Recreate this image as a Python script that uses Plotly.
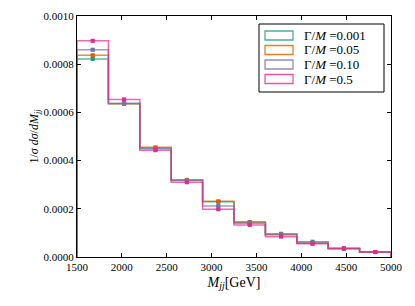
import plotly.graph_objects as go

bin_edges = [1500, 1850, 2200, 2550, 2900, 3250, 3600, 3950, 4300, 4650, 5000]
labels = ["Γ/<i>M</i> =0.001", "Γ/<i>M</i> =0.05", "Γ/<i>M</i> =0.10", "Γ/<i>M</i> =0.5"]
colors = ["#1b9e77", "#d95f02", "#7570b3", "#e7298a"]
vals_0001 = [0.000822, 0.000636, 0.000452, 0.000320, 0.000229, 0.000145, 0.0000965, 0.0000635, 0.0000345, 0.0000205]
vals_005 = [0.000837, 0.000636, 0.000455, 0.000319, 0.000231, 0.000144, 0.0000930, 0.0000580, 0.0000350, 0.0000205]
vals_010 = [0.000860, 0.000638, 0.000449, 0.000317, 0.000212, 0.000140, 0.0000920, 0.0000580, 0.0000350, 0.0000205]
vals_05 = [0.000897, 0.000654, 0.000443, 0.000310, 0.000198, 0.000133, 0.0000845, 0.0000545, 0.0000360, 0.0000210]
errs = [0.000004, 0.000004, 0.000003, 0.000003, 0.000003, 0.000002, 0.000002, 0.000002, 0.000001, 0.000001]
series = [vals_0001, vals_005, vals_010, vals_05]

centers = [(a + b) / 2 for a, b in zip(bin_edges[:-1], bin_edges[1:])]

def hex_rgba(h, a):
    h = h.lstrip("#")
    return "rgba(%d,%d,%d,%s)" % (int(h[0:2], 16), int(h[2:4], 16), int(h[4:6], 16), a)

W, H = 415, 306
ML, MR, MT, MB = 77, 24, 16, 49
PW, PH = W - ML - MR, H - MT - MB

def px(x):  # pixel x -> paper
    return (x - ML) / PW

def py(y):  # pixel y -> paper
    return 1 - (y - MT) / PH

fig = go.Figure()
for lab, col, vals in zip(labels, colors, series):
    xs = [bin_edges[0]]
    ys = [0]
    for i, v in enumerate(vals):
        xs += [bin_edges[i], bin_edges[i + 1]]
        ys += [v, v]
    xs.append(bin_edges[-1])
    ys.append(0)
    fig.add_trace(go.Scatter(x=xs, y=ys, mode="lines",
                             line=dict(color=hex_rgba(col, 0.7), width=1.5),
                             showlegend=False, hoverinfo="skip"))
    fig.add_trace(go.Scatter(x=centers, y=vals, mode="markers",
                             marker=dict(color=col, size=4, symbol="square"),
                             error_y=dict(type="data", array=errs, color=col, thickness=1, width=2),
                             showlegend=False, name=lab))

shapes = [dict(type="rect", xref="paper", yref="paper",
               x0=px(259), x1=px(384), y0=py(92), y1=py(24),
               line=dict(color="black", width=1), fillcolor="white", layer="above")]
annotations = []
row_tops = [31, 45.5, 60, 74.5]
for lab, col, top in zip(labels, colors, row_tops):
    shapes.append(dict(type="rect", xref="paper", yref="paper",
                       x0=px(265), x1=px(293), y0=py(top + 9), y1=py(top),
                       line=dict(color=hex_rgba(col, 0.8), width=1.3),
                       fillcolor="rgba(255,255,255,0)", layer="above"))
    annotations.append(dict(xref="paper", yref="paper", x=px(302), y=py(top + 4.5),
                            xanchor="left", yanchor="middle", showarrow=False,
                            text=lab, font=dict(size=13)))

font_family = "Liberation Serif"
fig.update_layout(
    width=W, height=H,
    margin=dict(l=ML, r=MR, t=MT, b=MB),
    paper_bgcolor="white", plot_bgcolor="white",
    showlegend=False,
    font=dict(family=font_family, size=11, color="black"),
    shapes=shapes, annotations=annotations,
    xaxis=dict(range=[1500, 5000], tickmode="array", automargin=False,
               tickvals=[1500, 2000, 2500, 3000, 3500, 4000, 4500, 5000],
               ticks="inside", ticklen=4, tickcolor="black", mirror="ticks",
               showline=True, linecolor="black", linewidth=1, showgrid=False, zeroline=False,
               title=dict(text="<i>M<sub>jj</sub></i>[GeV]", font=dict(size=14), standoff=4)),
    yaxis=dict(range=[0, 0.001], tickmode="array", automargin=False,
               tickvals=[0, 0.0002, 0.0004, 0.0006, 0.0008, 0.001],
               ticktext=["0.0000", "0.0002", "0.0004", "0.0006", "0.0008", "0.0010"],
               ticks="inside", ticklen=4, tickcolor="black", mirror="ticks",
               showline=True, linecolor="black", linewidth=1, showgrid=False, zeroline=False,
               title=dict(text="1/<i>σ</i> <i>dσ</i>/<i>dM<sub>jj</sub></i>", font=dict(size=12), standoff=2)),
)
fig.write_html("out.html", config={"displayModeBar": False},
               post_script="document.body.style.margin='0';document.body.style.padding='0';")
